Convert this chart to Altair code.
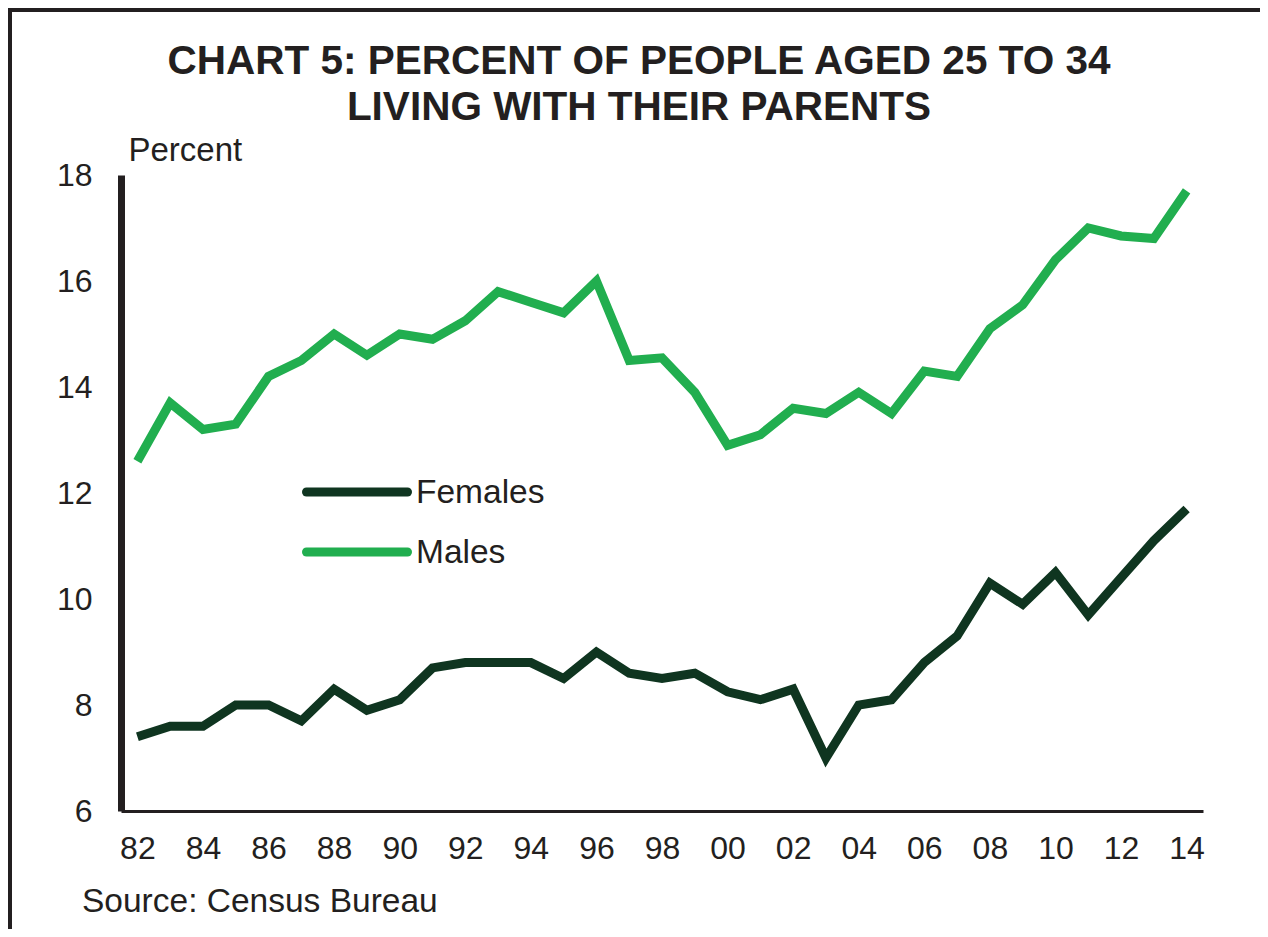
import altair as alt
import pandas as pd

# ---------------- data ----------------
years = list(range(1982, 2015))
males = [12.6, 13.7, 13.2, 13.3, 14.2, 14.5, 15.0, 14.6, 15.0, 14.9, 15.25,
         15.8, 15.6, 15.4, 16.0, 14.5, 14.55,
         13.9, 12.9, 13.1, 13.6, 13.5, 13.9, 13.5, 14.3, 14.2, 15.1,
         15.55, 16.4, 17.0, 16.85, 16.8, 17.7]
females = [7.4, 7.6, 7.6, 8.0, 8.0, 7.7, 8.3, 7.9, 8.1, 8.7, 8.8,
           8.8, 8.8, 8.5, 9.0, 8.6, 8.5,
           8.6, 8.25, 8.1, 8.3, 7.0, 8.0, 8.1, 8.8, 9.3, 10.3,
           9.9, 10.5, 9.7, 10.4, 11.1, 11.7]
series_names = ["Females", "Males"]
series_colors = ["#0f3520", "#21ae4f"]
y_ticks = [6, 8, 10, 12, 14, 16, 18]
x_ticks = list(range(1982, 2015, 2))
title_lines = ["CHART 5: PERCENT OF PEOPLE AGED 25 TO 34", "LIVING WITH THEIR PARENTS"]
y_axis_title = "Percent"
source_note = "Source: Census Bureau"

FONT = "Liberation Sans"
INK = "#231f20"
W, H = 1082, 636
PAD = {"left": 113, "top": 167, "right": 57, "bottom": 118}

df = pd.DataFrame({
    "year": years + years,
    "value": females + males,
    "series": ["Females"] * len(years) + ["Males"] * len(years),
})

color = alt.Color("series:N", scale=alt.Scale(domain=series_names, range=series_colors), legend=None)

x_enc = alt.X(
    "year:Q",
    scale=alt.Scale(domain=[1981.5, 2014.5], nice=False, zero=False),
    axis=alt.Axis(values=x_ticks, labelExpr="slice('0' + (datum.value % 100), -2)",
                  title=None, ticks=False, domainWidth=3, labelPadding=22,
                  labelFontSize=32, labelFlush=False, labelOverlap=False, grid=False),
)
y_enc = alt.Y(
    "value:Q",
    scale=alt.Scale(domain=[6, 18], nice=False, zero=False),
    axis=alt.Axis(values=y_ticks, title=y_axis_title, titleAngle=0, titleX=7, titleY=-15,
                  titleAlign="left", titleBaseline="alphabetic", titleFontSize=33,
                  titleFontWeight="normal", ticks=False, domainWidth=7, labelPadding=29,
                  labelFontSize=32, grid=False, labelOverlap=False),
)

lines = alt.Chart(df).mark_line(strokeWidth=9).encode(x=x_enc, y=y_enc, color=color)

one = pd.DataFrame({"k": [0]})
layers = [lines]

# legend (manual, inside plot)
for i, name in enumerate(series_names):
    ldf = pd.DataFrame({"series": [name]})
    layers.append(
        alt.Chart(ldf).mark_rule(strokeWidth=9, strokeCap="round").encode(
            x=alt.value(185.5), x2=alt.value(286.5), y=alt.value(317 + 60 * i),
            color=alt.value(series_colors[i]))
    )
    layers.append(
        alt.Chart(ldf).mark_text(align="left", baseline="alphabetic", font=FONT,
                                 fontSize=33.5, color=INK).encode(
            x=alt.value(295), y=alt.value(328 + 60 * i), text="series:N")
    )

# title lines
for i, t in enumerate(title_lines):
    layers.append(
        alt.Chart(one).mark_text(text=t, align="center", baseline="alphabetic", font=FONT,
                                 fontSize=40.5, fontWeight="bold", color=INK).encode(
            x=alt.value(518), y=alt.value(-101 + 46 * i))
    )

# source
layers.append(
    alt.Chart(one).mark_text(text=source_note, align="left", baseline="alphabetic", font=FONT,
                             fontSize=33.5, color=INK).encode(
        x=alt.value(-39), y=alt.value(737))
)

# frame (top and left)
layers.append(
    alt.Chart(one).mark_rule(strokeWidth=6, color=INK).encode(
        x=alt.value(-112), y=alt.value(-PAD["top"]), y2=alt.value(H + PAD["bottom"]))
)
layers.append(
    alt.Chart(one).mark_rule(strokeWidth=6, color=INK).encode(
        x=alt.value(-PAD["left"]), x2=alt.value(W + PAD["right"]), y=alt.value(-166))
)

chart = alt.layer(*layers).properties(
    width=W, height=H,
    autosize=alt.AutoSizeParams(type="none"),
    padding=PAD,
).configure_axis(
    labelFont=FONT, titleFont=FONT, labelColor=INK, titleColor=INK, domainColor=INK,
).configure_view(stroke=None)

chart.save("out.html", embed_options={"renderer": "svg", "actions": False})
